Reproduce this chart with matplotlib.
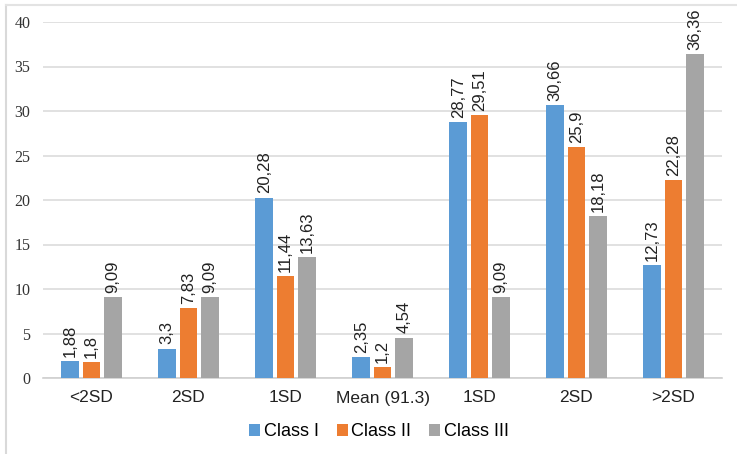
import matplotlib.pyplot as plt
import numpy as np
from matplotlib.lines import Line2D

categories = ["<2SD", "2SD", "1SD", "Mean (91.3)", "1SD", "2SD", ">2SD"]
class_1 = [1.88, 3.3, 20.28, 2.35, 28.77, 30.66, 12.73]
class_2 = [1.8, 7.83, 11.44, 1.2, 29.51, 25.9, 22.28]
class_3 = [9.09, 9.09, 13.63, 4.54, 9.09, 18.18, 36.36]
series_names = ["Class I", "Class II", "Class III"]
colors = ["#5B9BD5", "#ED7D31", "#A5A5A5"]

fig = plt.figure(figsize=(7.37, 4.54), dpi=100)
ax = fig.add_axes([43 / 737, 1 - 378 / 454, 679 / 737, 356 / 454])

x = np.arange(len(categories))
width = 0.18
step = 0.22
for i, (vals, name, c) in enumerate(zip([class_1, class_2, class_3], series_names, colors)):
    pos = x + (i - 1) * step
    ax.bar(pos, vals, width, color=c, label=name, zorder=3)
    for p, v in zip(pos, vals):
        ax.annotate(f"{v:g}".replace(".", ","), (p, v), xytext=(0, 3),
                    textcoords="offset points", rotation=90, ha="center", va="bottom",
                    fontsize=12, family="Liberation Sans", color="#222222")

ax.set_xlim(-0.5, len(categories) - 0.5)
ax.set_ylim(0, 40)
ax.set_yticks(range(0, 41, 5))
ax.yaxis.grid(True, color="#D9D9D9", linewidth=1.1, zorder=0)
for s in ["top", "right", "left"]:
    ax.spines[s].set_visible(False)
ax.spines["bottom"].set_color("#D0D0D0")
ax.spines["bottom"].set_linewidth(1.2)
ax.tick_params(axis="both", length=0)
ax.tick_params(axis="y", pad=9, labelsize=11.5)
ax.tick_params(axis="x", pad=9, labelsize=12.5)
ax.set_xticks(x)
ax.set_xticklabels(categories, family="Liberation Sans", color="#222222")
for lbl in ax.get_yticklabels():
    lbl.set_family("Liberation Serif")
    lbl.set_color("#333333")

fig.legend(loc="center", bbox_to_anchor=(379 / 737, 1 - 432 / 454), ncol=3, frameon=False,
           prop={"family": "Liberation Sans", "size": 13}, handlelength=0.6, handleheight=0.6,
           handletextpad=0.2, columnspacing=1.0)

# light frame around the chart
fig.add_artist(Line2D([6 / 737, 6 / 737], [0, 1 - 5 / 454], color="#D9D9D9", lw=1.5))
fig.add_artist(Line2D([6 / 737, 1], [1 - 5 / 454, 1 - 5 / 454], color="#E3E3E3", lw=1.5))

fig.savefig("out.png", dpi=100)
